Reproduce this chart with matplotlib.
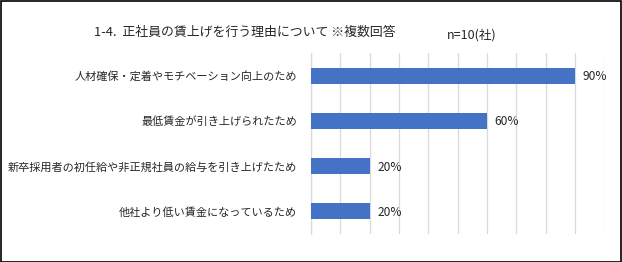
import matplotlib
matplotlib.use("Agg")
import matplotlib.pyplot as plt
from matplotlib.patches import Rectangle

plt.rcParams['font.family'] = ['Noto Sans CJK JP', 'DejaVu Sans']

categories = ["人材確保・定着やモチベーション向上のため",
              "最低賃金が引き上げられたため",
              "新卒採用者の初任給や非正規社員の給与を引き上げたため",
              "他社より低い賃金になっているため"]
values = [90, 60, 20, 20]
value_labels = ["90%", "60%", "20%", "20%"]
title = "1-4.  正社員の賃上げを行う理由について ※複数回答"
note = "n=10(社)"

W, H = 622, 262
fig = plt.figure(figsize=(W/100, H/100), dpi=100)
fig.patch.set_facecolor("white")
fig.patches.append(Rectangle((0.5/W, 0.5/H), 1 - 1.5/W, 1 - 1.5/H, transform=fig.transFigure,
                             fill=False, edgecolor="black", linewidth=1.2))

left, right = 311, 604.3
top, bottom = 53, 234
ax = fig.add_axes([left/W, 1 - bottom/H, (right-left)/W, (bottom-top)/H])
y = list(range(len(categories)))
ax.barh(y, values, height=0.35, color="#4472C4", zorder=3)
ax.set_xlim(0, 100)
ax.set_ylim(len(categories) - 0.5, -0.5)
ax.set_xticks(range(0, 101, 10))
ax.xaxis.grid(True, color="#D9D9D9", linewidth=0.9, zorder=0)
ax.tick_params(axis="x", length=0, labelbottom=False)
ax.tick_params(axis="y", length=0, pad=10)
ax.set_yticks(y)
ax.set_yticklabels(categories, fontsize=8.0, color="#262626")
for s in ["top", "right", "bottom"]:
    ax.spines[s].set_visible(False)
ax.spines["left"].set_color("#D9D9D9")
ax.spines["left"].set_linewidth(0.9)
for yi, v, lab in zip(y, values, value_labels):
    ax.annotate(lab, (v, yi), xytext=(5.5, -0.8), textcoords="offset points",
                va="center", ha="left", fontsize=8.6, color="#262626")

fig.text(245/W, 1 - 32/H, title, ha="center", va="center", fontsize=9.3, color="#262626")
fig.text(472/W, 1 - 35/H, note, ha="center", va="center", fontsize=9, color="#262626")

fig.savefig("out.png", dpi=100)
